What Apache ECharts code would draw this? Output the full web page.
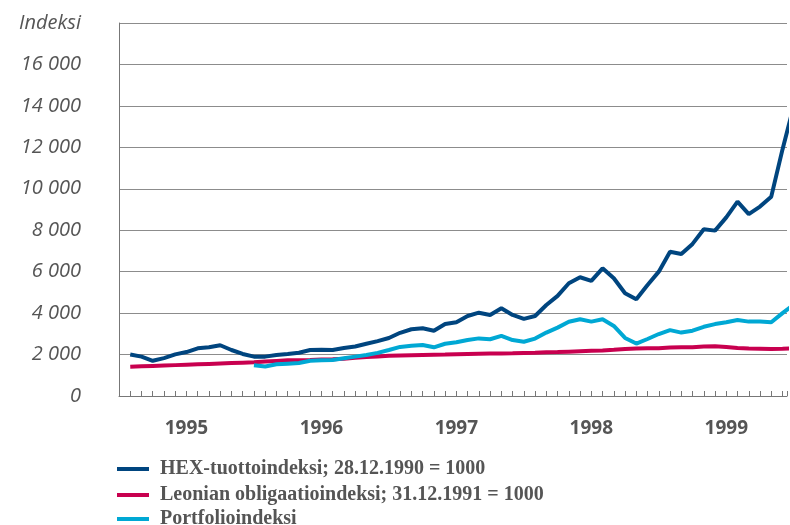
<!DOCTYPE html>
<html>
<head>
<meta charset="utf-8">
<script src="https://cdn.jsdelivr.net/npm/echarts@6/dist/echarts.min.js"></script>
<style>
  html, body { margin: 0; padding: 0; background: #fff; }
  #chart { width: 790px; height: 525px; }
</style>
</head>
<body>
<div id="chart"></div>
<script>
// kuukausiarvot, kk 1 = tammikuun loppu 1995
const years = ['1995', '1996', '1997', '1998', '1999'];
const hexIndex = [
  2000, 1900, 1700, 1830, 2010, 2120, 2300, 2350, 2450, 2220, 2030, 1900,
  1900, 1980, 2030, 2090, 2220, 2230, 2220, 2320, 2390, 2520, 2650, 2800,
  3050, 3220, 3270, 3150, 3470, 3560, 3860, 4020, 3910, 4230, 3910, 3720,
  3860, 4390, 4830, 5440, 5730, 5560, 6160, 5680, 4960, 4670, 5360, 6000,
  6960, 6850, 7340, 8050, 7980, 8620, 9380, 8780, 9140, 9620, 11900, 14000
];
const bondIndex = [
  1410, 1430, 1450, 1470, 1490, 1510, 1530, 1550, 1570, 1590, 1610, 1630,
  1660, 1690, 1720, 1730, 1740, 1760, 1770, 1800, 1840, 1880, 1910, 1940,
  1960, 1970, 1980, 1990, 2000, 2020, 2030, 2040, 2050, 2050, 2060, 2080,
  2090, 2110, 2120, 2140, 2160, 2180, 2200, 2230, 2270, 2290, 2300, 2310,
  2340, 2350, 2350, 2390, 2400, 2360, 2320, 2290, 2280, 2270, 2280, 2300
];
// portfolio alkaa joulukuusta 1995 (kk 12)
const portfolioStart = 12;
const portfolioIndex = [
  1480, 1420, 1530, 1560, 1590, 1700, 1720, 1740, 1820, 1900, 1980, 2080, 2220,
  2370, 2420, 2460, 2350, 2520, 2590, 2700, 2780, 2740, 2900, 2700, 2620,
  2770, 3060, 3300, 3580, 3700, 3590, 3700, 3380, 2800, 2530, 2750, 2990,
  3180, 3060, 3150, 3340, 3470, 3560, 3670, 3590, 3590, 3560, 4000, 4400
];
const seriesNames = [
  'HEX-tuottoindeksi; 28.12.1990 = 1000',
  'Leonian obligaatioindeksi; 31.12.1991 = 1000',
  'Portfolioindeksi'
];
const yTicks = { min: 0, max: 18000, step: 2000 };
const yAxisName = 'Indeksi';
// kuva on rajattu joulukuun 1999 kohdalta
const xVisibleMax = 59.4;

const toPairs = (arr, start) => arr.map((v, i) => [start + i, v]);
const fmt = (v) => String(v).replace(/\B(?=(\d{3})+(?!\d))/g, ' ');

const myChart = echarts.init(document.getElementById('chart'));

const lineSeries = (name, data, color) => ({
  name: name,
  type: 'line',
  data: data,
  symbol: 'none',
  clip: true,
  lineStyle: { color: color, width: 4 },
  itemStyle: { color: color },
  emphasis: { disabled: true }
});

// yksi selite per rivi
const legendRow = (name, top) => ({
  left: 117,
  top: top,
  padding: 0,
  icon: 'rect',
  itemWidth: 32,
  itemHeight: 4,
  selectedMode: false,
  textStyle: {
    fontFamily: 'Liberation Serif',
    fontWeight: 'bold',
    fontSize: 20,
    color: '#555',
    padding: [0, 0, 0, 6]
  },
  data: [name]
});

const options = {
  animation: false,
  grid: { left: 119, top: 23, bottom: 129, right: 0 },
  legend: [
    legendRow(seriesNames[0], 459),
    legendRow(seriesNames[1], 485),
    legendRow(seriesNames[2], 509)
  ],
  xAxis: {
    type: 'value',
    min: 0,
    max: xVisibleMax,
    interval: 1,
    axisLine: { show: true, lineStyle: { color: '#777', width: 1 } },
    axisTick: { show: true, inside: true, length: 5, lineStyle: { color: '#777' } },
    splitLine: { show: false },
    axisLabel: {
      margin: 23,
      fontFamily: 'Open Sans',
      fontWeight: 'bold',
      fontSize: 19,
      color: '#555',
      formatter: (v) => (v % 12 === 6 ? years[(v - 6) / 12] : '')
    }
  },
  yAxis: {
    type: 'value',
    min: yTicks.min,
    max: yTicks.max,
    interval: yTicks.step,
    axisLine: { show: true, lineStyle: { color: '#777', width: 1 } },
    axisTick: { show: false },
    splitLine: { show: true, lineStyle: { color: '#8c8c8c', width: 1 } },
    axisLabel: {
      margin: 38,
      fontFamily: 'Open Sans',
      fontStyle: 'italic',
      fontSize: 20,
      color: '#555',
      formatter: (v) => (v === yTicks.max ? yAxisName : fmt(v))
    }
  },
  series: [
    lineSeries(seriesNames[0], toPairs(hexIndex, 1), '#00457f'),
    lineSeries(seriesNames[1], toPairs(bondIndex, 1), '#c8004f'),
    lineSeries(seriesNames[2], toPairs(portfolioIndex, portfolioStart), '#00a8d4')
  ]
};

myChart.setOption(options);
</script>
</body>
</html>
